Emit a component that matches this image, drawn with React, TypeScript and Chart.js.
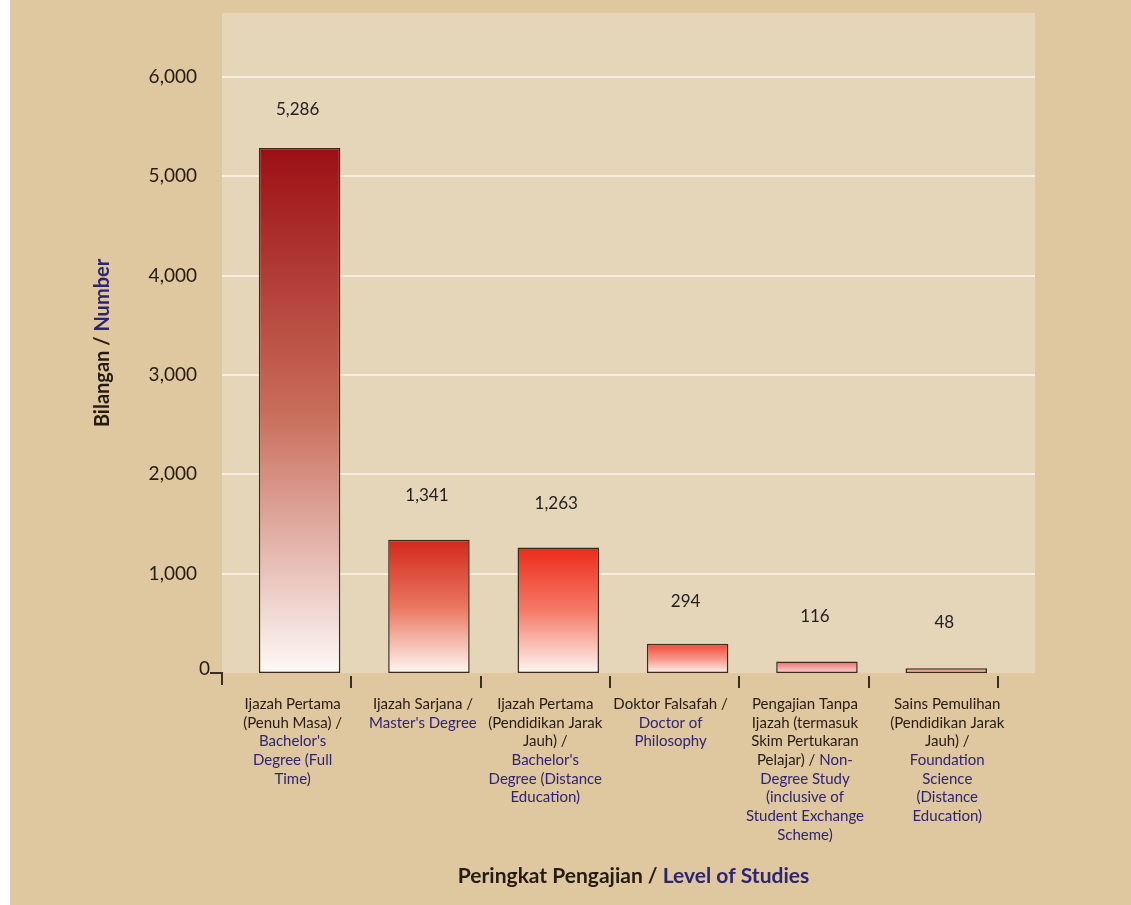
import React, { useEffect, useRef } from "react";
import { Chart, registerables } from "chart.js";

Chart.register(...registerables);

// ---- Data ----
const values = [5286, 1341, 1263, 294, 116, 48];
const valueLabels = ["5,286", "1,341", "1,263", "294", "116", "48"];
// Category labels: "|" starts the English (blue) part of a line
const categoryLines: string[][] = [
  ["Ijazah Pertama", "(Penuh Masa) /", "|Bachelor's", "|Degree (Full", "|Time)"],
  ["Ijazah Sarjana /", "|Master's Degree"],
  ["Ijazah Pertama", "(Pendidikan Jarak", "Jauh) /", "|Bachelor's", "|Degree (Distance", "|Education)"],
  ["Doktor Falsafah /", "|Doctor of", "|Philosophy"],
  ["Pengajian Tanpa", "Ijazah (termasuk", "Skim Pertukaran", "Pelajar) / |Non-", "|Degree Study", "|(inclusive of", "|Student Exchange", "|Scheme)"],
  ["Sains Pemulihan", "(Pendidikan Jarak", "Jauh) /", "|Foundation", "|Science", "|(Distance", "|Education)"],
];
const yTitleMs = "Bilangan / ";
const yTitleEn = "Number";
const xTitleMs = "Peringkat Pengajian / ";
const xTitleEn = "Level of Studies";
const yMax = 6000;
const yStep = 1000;

// ---- Styles ----
const PAGE_BG = "#dfc79f";
const PANEL_BG = "#e6d6b9";
const GRID = "#f6eee0";
const DARK = "#241c12";
const BLUE = "#2e2474";
const AXIS = "#3a2e22";
const barTop = ["#9c0f14", "#d3281b", "#ee2a1a", "#f04434", "#ee6c6e", "#e49888"];
const barMid = ["#c86c5a", "#ea765e", "#f47a66", "#f69486", "#f3a0a0", "#edae9f"];
const barBottom = ["#fdf9f7", "#fdf6f2", "#fdf6f3", "#fdf3f0", "#f9d5d2", "#f3c6b8"];
const labelShift = [-7, -6, -13, -17, -12, 1];
const valueGap = [38, 44, 44, 42, 45, 46];

const FONT = "Lato, 'Open Sans', sans-serif";

function drawMixed(ctx: CanvasRenderingContext2D, line: string, cx: number, cy: number) {
  const idx = line.indexOf("|");
  const ms = idx < 0 ? line : line.slice(0, idx);
  const en = idx < 0 ? "" : line.slice(idx + 1);
  const w1 = ctx.measureText(ms).width;
  const w2 = ctx.measureText(en).width;
  let x = cx - (w1 + w2) / 2;
  ctx.textAlign = "left";
  ctx.fillStyle = DARK;
  if (ms) ctx.fillText(ms, x, cy);
  x += w1;
  ctx.fillStyle = BLUE;
  if (en) ctx.fillText(en, x, cy);
}

const decor = {
  id: "decor",
  beforeDraw(chart: any) {
    const { ctx, chartArea: a, scales } = chart;
    const y = scales.y;
    const pl = a.left;
    const pr = a.right + 37;
    const pt = a.top - 64;
    const pb = a.bottom;
    ctx.save();
    ctx.fillStyle = PANEL_BG;
    ctx.fillRect(pl, pt, pr - pl, pb - pt);
    ctx.strokeStyle = GRID;
    ctx.lineWidth = 2;
    y.ticks.forEach((t: any) => {
      if (t.value === 0) return;
      const py = Math.round(y.getPixelForValue(t.value));
      ctx.beginPath();
      ctx.moveTo(pl, py);
      ctx.lineTo(pr, py);
      ctx.stroke();
    });
    ctx.restore();
  },
  afterDraw(chart: any) {
    const { ctx, chartArea: a, scales } = chart;
    const x = scales.x;
    const y = scales.y;
    const meta = chart.getDatasetMeta(0);
    ctx.save();
    // value labels
    ctx.font = `17px ${FONT}`;
    ctx.fillStyle = "#222";
    ctx.textAlign = "center";
    ctx.textBaseline = "middle";
    meta.data.forEach((el: any, i: number) => {
      ctx.fillText(valueLabels[i], el.x - 2, el.y - valueGap[i]);
    });
    // axis marks
    const zy = y.getPixelForValue(0);
    ctx.strokeStyle = AXIS;
    ctx.lineWidth = 2;
    ctx.beginPath();
    ctx.moveTo(a.left - 12, zy);
    ctx.lineTo(a.left, zy);
    ctx.lineTo(a.left, zy + 12);
    ctx.stroke();
    for (let i = 0; i < values.length; i++) {
      const px = Math.round(x.getPixelForValue(i + 0.4));
      ctx.beginPath();
      ctx.moveTo(px, zy + 3);
      ctx.lineTo(px, zy + 15);
      ctx.stroke();
    }
    // zero label
    ctx.font = `19px ${FONT}`;
    ctx.fillStyle = DARK;
    ctx.textAlign = "right";
    ctx.textBaseline = "middle";
    ctx.fillText("0", a.left - 12, zy - 4);
    // category labels
    ctx.font = `15px ${FONT}`;
    ctx.textBaseline = "middle";
    categoryLines.forEach((lines, i) => {
      const cx = x.getPixelForValue(i) + labelShift[i];
      lines.forEach((ln, k) => drawMixed(ctx, ln, cx, zy + 31 + k * 18.7));
    });
    // x title
    ctx.font = `bold 21px ${FONT}`;
    const pr = a.right + 37;
    drawMixed(ctx, xTitleMs + "|" + xTitleEn, (a.left + pr) / 2 + 5, zy + 203);
    // y title
    ctx.translate(a.left - 119, (a.top - 64 + a.bottom) / 2);
    ctx.rotate(-Math.PI / 2);
    ctx.font = `bold 20px ${FONT}`;
    drawMixed(ctx, yTitleMs + "|" + yTitleEn, 0, 0);
    ctx.restore();
  },
};

export default function App() {
  const ref = useRef<HTMLCanvasElement | null>(null);
  useEffect(() => {
    if (!ref.current) return;
    const chart = new Chart(ref.current, {
      type: "bar",
      data: {
        datasets: [
          {
            data: values.map((v, i) => ({ x: i, y: v })),
            backgroundColor: (c: any) => {
              const i = c.dataIndex ?? 0;
              const ch = c.chart;
              if (!ch.chartArea || !ch.scales.y) return barTop[i];
              const ys = ch.scales.y;
              const t = ys.getPixelForValue(values[i]);
              const b = ys.getPixelForValue(0);
              const g = ch.ctx.createLinearGradient(0, t, 0, b);
              g.addColorStop(0, barTop[i]);
              g.addColorStop(0.5, barMid[i]);
              g.addColorStop(1, barBottom[i]);
              return g;
            },
            borderColor: "#3b2a20",
            borderWidth: 1.5,
            borderSkipped: false,
            barPercentage: 0.63,
            categoryPercentage: 1,
          },
        ],
      },
      options: {
        animation: false,
        responsive: true,
        maintainAspectRatio: false,
        layout: { padding: { left: 0, top: 77, right: 133, bottom: 232 } },
        plugins: { legend: { display: false }, tooltip: { enabled: false } },
        scales: {
          x: {
            type: "linear",
            min: -0.6,
            max: 5.4,
            offset: false,
            display: false,
            afterBuildTicks: (s: any) => {
              s.ticks = values.map((_, i) => ({ value: i }));
            },
          },
          y: {
            min: 0,
            max: yMax,
            afterFit: (s: any) => {
              s.width = 212;
            },
            ticks: {
              stepSize: yStep,
              padding: 25,
              color: DARK,
              font: { family: FONT, size: 19 },
              callback: (v: any) => (v === 0 ? "" : Number(v).toLocaleString("en-US")),
            },
            grid: { display: false, drawTicks: false },
            border: { display: false },
          },
        },
      },
      plugins: [decor],
    });
    return () => chart.destroy();
  }, []);
  return (
    <div
      style={{
        position: "absolute",
        left: 10,
        top: 0,
        width: 1121,
        height: 905,
        background: PAGE_BG,
      }}
    >
      <canvas ref={ref} />
    </div>
  );
}
